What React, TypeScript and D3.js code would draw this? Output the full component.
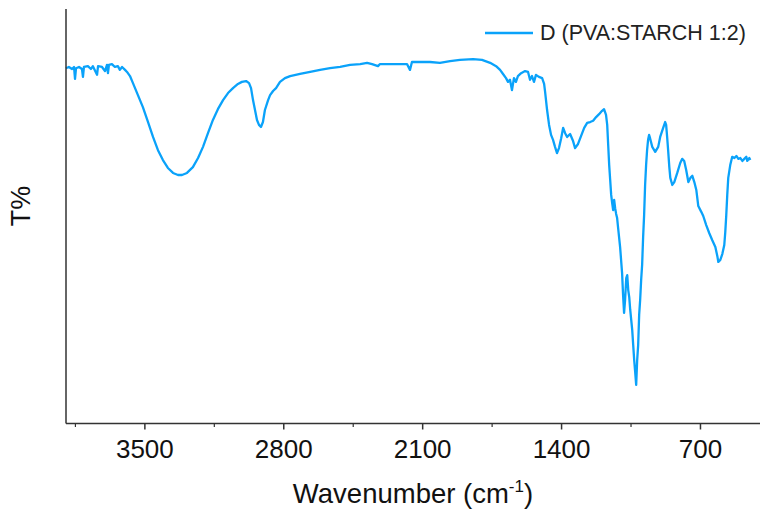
import React from "react";
import * as d3 from "d3";

const seriesName = "D (PVA:STARCH 1:2)";
const xTicks = [3500, 2800, 2100, 1400, 700];
const xMinorTicks = [3850, 3150, 2450, 1750, 1050];

const wavenumber = [
  3898, 3883, 3867, 3857, 3852, 3847, 3832, 3817, 3812, 3807, 3787, 3772, 3762, 3741, 3736, 3716, 3701, 3691, 3686, 3681,
  3666, 3651, 3636, 3626, 3615, 3600, 3590, 3575, 3560, 3535, 3510, 3484, 3459, 3434, 3409, 3384, 3358, 3333, 3313, 3288,
  3258, 3232, 3207, 3182, 3157, 3132, 3106, 3081, 3056, 3031, 3011, 2990, 2975, 2965, 2955, 2945, 2935, 2925, 2915, 2905,
  2895, 2879, 2869, 2854, 2839, 2819, 2794, 2768, 2718, 2667, 2617, 2567, 2516, 2466, 2415, 2380, 2355, 2325, 2315, 2264,
  2214, 2179, 2164, 2154, 2113, 2063, 2013, 1962, 1912, 1846, 1801, 1760, 1730, 1710, 1695, 1680, 1670, 1660, 1650, 1640,
  1630, 1620, 1604, 1584, 1569, 1559, 1549, 1539, 1529, 1514, 1498, 1488, 1483, 1473, 1463, 1453, 1443, 1433, 1423, 1413,
  1402, 1392, 1382, 1372, 1357, 1342, 1332, 1317, 1302, 1286, 1271, 1256, 1241, 1226, 1211, 1196, 1186, 1176, 1170, 1165,
  1160, 1155, 1150, 1145, 1140, 1135, 1130, 1125, 1120, 1115, 1105, 1095, 1090, 1085, 1080, 1074, 1069, 1064, 1059, 1054,
  1049, 1044, 1039, 1034, 1029, 1024, 1019, 1014, 1009, 1004, 999, 994, 989, 984, 979, 974, 969, 964, 959, 954,
  943, 928, 913, 903, 888, 878, 873, 868, 863, 857, 852, 842, 832, 817, 802, 792, 782, 772, 761, 751,
  741, 731, 721, 711, 696, 686, 671, 656, 641, 625, 615, 610, 600, 590, 580, 575, 570, 565, 560, 550,
  540, 529, 519, 509, 499, 489, 479, 469, 464, 454, 449,
];

const transmittance = [
  85.7, 86.0, 85.5, 86.0, 83.1, 85.7, 86.0, 85.5, 83.6, 86.0, 86.2, 85.5, 86.2, 84.1, 86.2, 86.0, 85.0, 86.5, 84.5, 86.5,
  86.7, 86.0, 86.2, 85.3, 86.0, 85.3, 84.8, 83.8, 82.1, 79.2, 76.3, 72.7, 69.1, 65.9, 63.5, 61.6, 60.4, 59.9, 59.9, 60.4,
  61.8, 64.0, 66.7, 70.0, 73.2, 75.8, 78.0, 79.7, 80.9, 81.9, 82.4, 82.6, 82.1, 80.9, 78.0, 75.6, 73.2, 72.0, 71.5, 72.7,
  75.6, 78.0, 79.2, 80.2, 80.9, 82.4, 83.3, 83.8, 84.3, 84.8, 85.3, 85.7, 86.0, 86.5, 86.7, 87.0, 86.7, 86.2, 86.7, 86.7,
  86.7, 86.7, 85.3, 87.2, 87.2, 87.2, 87.0, 87.4, 87.7, 87.9, 87.7, 87.0, 86.2, 85.3, 84.3, 83.3, 82.4, 82.9, 80.4, 83.3,
  82.4, 83.8, 84.5, 85.0, 84.8, 82.9, 83.8, 82.4, 84.1, 83.6, 83.3, 81.9, 80.0, 75.6, 72.0, 69.6, 68.4, 66.7, 65.2, 66.4,
  68.8, 71.3, 70.0, 69.1, 69.8, 68.1, 66.4, 67.4, 69.3, 71.3, 72.5, 72.7, 73.0, 73.9, 74.6, 75.4, 75.8, 74.4, 72.0, 67.1,
  62.3, 58.7, 55.1, 53.1, 51.4, 53.9, 51.9, 50.5, 49.5, 47.1, 42.5, 36.2, 30.9, 26.6, 29.7, 35.0, 35.7, 32.1, 30.4, 27.3,
  24.9, 22.5, 18.8, 15.2, 12.3, 9.2, 15.2, 18.8, 26.1, 29.7, 34.5, 38.2, 44.9, 50.2, 57.5, 62.3, 65.9, 68.4, 69.6, 68.8,
  66.7, 65.5, 66.7, 69.1, 71.3, 72.7, 72.0, 69.1, 65.9, 61.8, 59.2, 57.5, 58.2, 60.4, 62.8, 63.8, 63.3, 61.1, 58.2, 59.2,
  59.7, 58.2, 56.3, 52.4, 51.0, 50.0, 47.8, 45.9, 44.2, 42.5, 40.3, 38.9, 39.4, 40.8, 43.0, 46.1, 50.2, 55.1, 59.2, 62.3,
  64.3, 64.0, 64.5, 63.8, 64.0, 63.3, 63.8, 64.3, 63.3, 64.0, 63.5,
];

const W = 760;
const H = 511;
const left = 66;
const bottom = 423.5;
const top = 9;
const right = 760;
const lineColor = "#0AA2FA";
const axisColor = "#333333";
const font = "'Liberation Sans', Arial, sans-serif";

export default function App() {
  const x = d3.scaleLinear().domain([3900, 400]).range([65.5, 760]);
  const y = d3.scaleLinear().domain([0, 100]).range([423, 9]);
  const data = wavenumber.map((w, i) => [w, transmittance[i]] as [number, number]);
  const line = d3
    .line<[number, number]>()
    .x((d) => x(d[0]))
    .y((d) => y(d[1]));

  return (
    <svg
      width={W}
      height={H}
      style={{ position: "absolute", left: 0, top: 0, background: "#fff" }}
      fontFamily={font}
    >
      <rect width={W} height={H} fill="#fff" />
      <path d={line(data) || ""} fill="none" stroke={lineColor} strokeWidth={2.3} strokeLinejoin="round" />
      {/* axes */}
      <line x1={left} x2={left} y1={top} y2={bottom} stroke={axisColor} strokeWidth={1.5} />
      <line x1={left} x2={right} y1={bottom} y2={bottom} stroke={axisColor} strokeWidth={1.5} />
      {xTicks.map((t) => (
        <g key={t}>
          <line x1={x(t)} x2={x(t)} y1={bottom} y2={bottom + 6} stroke={axisColor} strokeWidth={1.5} />
          <text x={x(t)} y={458} textAnchor="middle" fontSize={26} fill="#111">
            {t}
          </text>
        </g>
      ))}
      {xMinorTicks.map((t) => (
        <line key={t} x1={x(t)} x2={x(t)} y1={bottom} y2={bottom + 3.5} stroke={axisColor} strokeWidth={1.2} />
      ))}
      <text x={413} y={503} textAnchor="middle" fontSize={27.5} fill="#111">
        Wavenumber (cm
        <tspan fontSize={17} dy={-11}>-1</tspan>
        <tspan dy={11}>)</tspan>
      </text>
      <text transform="translate(30,206) rotate(-90)" textAnchor="middle" fontSize={27} fill="#111">
        T%
      </text>
      {/* legend */}
      <line x1={485} x2={533} y1={33} y2={33} stroke={lineColor} strokeWidth={2.3} />
      <text x={540} y={40} fontSize={21.5} fill="#222">
        {seriesName}
      </text>
    </svg>
  );
}
